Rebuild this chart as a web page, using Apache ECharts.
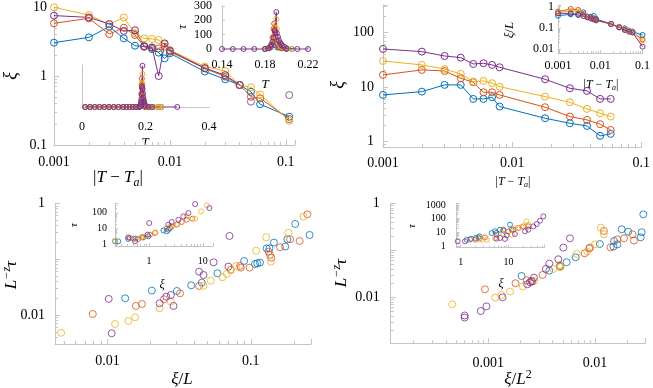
<!DOCTYPE html>
<html>
<head>
<meta charset="utf-8">
<script src="https://cdn.jsdelivr.net/npm/echarts@6/dist/echarts.min.js"></script>
<style>
html, body { margin: 0; padding: 0; background: #fff; }
#chart { width: 653px; height: 388px; }
</style>
</head>
<body>
<div id="chart"></div>
<script>
// ---- panel 1: xi vs |T - Ta| ----
const p1X = [0.001, 0.002, 0.003, 0.004, 0.005, 0.006, 0.007, 0.008, 0.009, 0.01, 0.02, 0.03, 0.04, 0.05, 0.06, 0.107]
const p1Blue = [3.04, 3.63, 5.2, 3.51, 2.75, 2.66, 2.46, 2.18, 1.8, 2.13, 1.16, 0.895, 0.74, 0.59, 0.39, 0.257]
const p1Orange = [5.8, 6.85, 4.06, 5.0, 3.93, 2.66, 2.55, 2.52, 2.66, 2.25, 1.29, 0.98, 0.74, 0.5, 0.475, 0.238]
const p1Yellow = [9.9, 7.66, 5.6, 7.07, 4.15, 3.51, 3.44, 3.33, 2.88, 2.38, 1.37, 1.18, 0.74, 0.685, 0.54, 0.225]
const p1PurpleX = [0.001, 0.002, 0.003, 0.004, 0.005, 0.006, 0.007, 0.008, 0.009, 0.01, 0.02, 0.03, 0.04]
const p1Purple = [7.5, 7.07, 5.67, 4.5, 4.6, 2.72, 2.6, 1.0, 2.97, 2.33, 1.3, 1.03, 0.74]
const p1PurpleLooseX = [0.05, 0.107]
const p1PurpleLoose = [0.425, 0.53]

// inset 1a: tau vs T (zoom on the peak)
const i1PurpleT = [0.14, 0.15, 0.16, 0.17, 0.18, 0.183, 0.185, 0.186, 0.187, 0.188, 0.189, 0.1895, 0.1905, 0.191, 0.192, 0.193, 0.194, 0.195, 0.196, 0.198, 0.2, 0.21, 0.22]
const i1Purple = [0, 0, 0, 0, 0, 5, 15, 30, 50, 80, 130, 119, 257, 110, 85, 60, 45, 35, 25, 15, 5, 0, 0]
const i1OrangeT = [0.18, 0.184, 0.186, 0.187, 0.188, 0.1885, 0.189, 0.19, 0.191, 0.192, 0.194, 0.196, 0.2]
const i1Orange = [0, 10, 30, 80, 140, 177, 120, 60, 40, 20, 10, 5, 0]
const i1YellowT = [0.18, 0.185, 0.187, 0.188, 0.189, 0.1905, 0.191, 0.192, 0.193, 0.195, 0.2, 0.205]
const i1Yellow = [0, 10, 40, 90, 150, 207, 140, 80, 40, 15, 5, 0]
const i1BlueT = [0.18, 0.184, 0.186, 0.188, 0.19, 0.192, 0.195, 0.2, 0.205]
const i1Blue = [0, 5, 20, 40, 25, 10, 5, 0, 0]

// inset 1b: tau vs T over the whole range
const i1bLowT = [0.01, 0.025, 0.04, 0.055, 0.07, 0.085, 0.1, 0.115, 0.13, 0.14, 0.15, 0.16, 0.17]
const i1bLow = [0, 0, 0, 0, 0, 0, 0, 0, 0, 0, 0, 0, 0]
const i1bTailT = [0.21, 0.225, 0.24, 0.25]
const i1bTail = [0, 0, 0, 0]
const i1bPurpleTailT = [0.3]
const i1bPurpleTail = [0]

// ---- panel 2: xi vs |T - Ta| ----
const p2X = [0.001, 0.002, 0.003, 0.004, 0.005, 0.006, 0.007, 0.008, 0.018, 0.028, 0.038, 0.048, 0.058]
const p2Purple = [49.5, 44.3, 36.9, 34.4, 26.3, 27.1, 25.3, 22.9, 13.8, 9.46, 8.45, 6.03, 6.03]
const p2Yellow = [29.9, 25.3, 21.3, 17.3, 12.5, 12.9, 11.7, 10.1, 6.65, 5.24, 3.96, 3.3, 2.87]
const p2Orange = [16.6, 20.5, 19.6, 14.4, 12.2, 7.98, 7.98, 7.14, 4.25, 2.87, 2.49, 2.08, 1.63]
const p2Blue = [7.14, 8.2, 10.9, 10.9, 6.03, 6.03, 6.47, 4.37, 2.67, 2.16, 1.93, 1.27, 1.38]

// inset 2: xi/L
const i2X = [0.001, 0.002, 0.003, 0.004, 0.005, 0.006, 0.007, 0.008, 0.018, 0.028, 0.038, 0.048, 0.058, 0.1]
const i2Blue = [0.376, 0.434, 0.45, 0.54, 0.337, 0.337, 0.362, 0.262, 0.152, 0.106, 0.095, 0.074, 0.066, 0.046]
const i2Orange = [0.58, 0.776, 0.696, 0.45, 0.337, 0.281, 0.281, 0.234, 0.152, 0.106, 0.085, 0.074, 0.061, 0.029]
const i2Yellow = [0.52, 0.624, 0.58, 0.362, 0.314, 0.281, 0.252, 0.218, 0.152, 0.114, 0.085, 0.071, 0.061, 0.025]
const i2Purple = [0.484, 0.484, 0.404, 0.362, 0.314, 0.281, 0.252, 0.234, 0.152, 0.106, 0.079, 0.066, 0.061, 0.013]

// ---- panel 3: L^-z tau vs xi/L ----
const p3BlueX = [0.0133, 0.0204, 0.0305, 0.0384, 0.0455, 0.0585, 0.0898, 0.107, 0.111, 0.116, 0.129, 0.135, 0.145, 0.174, 0.18, 0.204, 0.257]
const p3BlueY = [0.0199, 0.0273, 0.0269, 0.034, 0.0379, 0.0557, 0.0927, 0.0819, 0.0842, 0.0865, 0.156, 0.156, 0.198, 0.168, 0.227, 0.427, 0.271]
const p3OrangeX = [0.0079, 0.0158, 0.0174, 0.0248, 0.0321, 0.0436, 0.0725, 0.0843, 0.0851, 0.098, 0.133, 0.136, 0.139, 0.16, 0.188, 0.219, 0.248]
const p3OrangeY = [0.0104, 0.0145, 0.0157, 0.0191, 0.0244, 0.0331, 0.064, 0.0755, 0.0704, 0.0704, 0.136, 0.119, 0.106, 0.163, 0.227, 0.211, 0.635]
const p3YellowX = [0.00475, 0.0113, 0.014, 0.0156, 0.0231, 0.0277, 0.0468, 0.0526, 0.0634, 0.068, 0.0725, 0.079, 0.109, 0.128, 0.138, 0.183, 0.233]
const p3YellowY = [0.0048, 0.0069, 0.0078, 0.0091, 0.0132, 0.0173, 0.0331, 0.0412, 0.0473, 0.0542, 0.066, 0.0755, 0.142, 0.246, 0.0902, 0.298, 0.577]
const p3PurpleX = [0.0102, 0.0107, 0.0231, 0.0257, 0.0277, 0.0289, 0.0436, 0.0468, 0.055, 0.0698, 0.071]
const p3PurpleY = [0.0194, 0.0047, 0.0162, 0.0213, 0.0228, 0.0145, 0.0597, 0.052, 0.0877, 0.0734, 0.26]

// inset 3: tau vs xi
const i3BlueX = [0.233, 0.268, 0.41, 0.565, 0.75, 0.97, 1.85, 2.13, 2.29, 2.46]
const i3BlueY = [1.54, 1.54, 2.16, 2.27, 2.76, 3.2, 7.7, 6.6, 8.4, 10.8]
const i3OrangeX = [0.44, 0.51, 0.63, 0.78, 1.04, 1.29, 2.13, 2.64, 3.27, 4.06, 5.03, 6.42]
const i3OrangeY = [2.5, 2.27, 2.16, 2.76, 4.1, 5.2, 9.8, 13.7, 17.5, 26, 36, 42]
const i3YellowX = [0.233, 0.71, 0.84, 1.33, 2.46, 3.42, 5.03, 7.2, 9.3, 11.9]
const i3YellowY = [1.7, 2.76, 3.2, 5.7, 13.7, 19.3, 59, 42, 122, 293]
const i3PurpleX = [0.41, 0.55, 0.94, 1.01, 2.29, 2.64, 3.52, 4.36, 5.4, 7.2, 13.3]
const i3PurpleY = [2.76, 1.54, 4.1, 22.3, 17.5, 26, 36, 59, 96, 355, 198]

// ---- panel 4: L^-z tau vs xi/L^2 ----
const p4BlueX = [0.00205, 0.00373, 0.0047, 0.00542, 0.00659, 0.0111, 0.0149, 0.0151, 0.0162, 0.0178, 0.0205, 0.0268, 0.0274, 0.0284]
const p4BlueY = [0.0284, 0.0369, 0.0449, 0.0556, 0.071, 0.136, 0.12, 0.158, 0.134, 0.28, 0.249, 0.189, 0.242, 0.583]
const p4OrangeX = [0.00093, 0.0018, 0.00229, 0.00253, 0.00323, 0.0047, 0.008, 0.00885, 0.00897, 0.0121, 0.014, 0.0162, 0.0187, 0.0225, 0.0232]
const p4OrangeY = [0.0148, 0.0199, 0.023, 0.0223, 0.0299, 0.0464, 0.0863, 0.11, 0.114, 0.258, 0.116, 0.171, 0.18, 0.219, 0.161]
const p4YellowX = [0.00046, 0.00116, 0.00133, 0.0016, 0.0021, 0.00268, 0.00407, 0.0047, 0.00476, 0.00673, 0.00847, 0.01, 0.0113, 0.0121]
const p4YellowY = [0.0071, 0.0098, 0.0112, 0.0132, 0.0171, 0.0223, 0.0401, 0.0488, 0.0442, 0.0836, 0.0937, 0.134, 0.303, 0.219]
const p4PurpleX = [0.00012, 0.0006, 0.0006, 0.00085, 0.00096, 0.00136, 0.00232, 0.00246, 0.00257, 0.00268, 0.00347, 0.00373, 0.00453, 0.00505, 0.00583]
const p4PurpleY = [0.0027, 0.0041, 0.0037, 0.0051, 0.0064, 0.01, 0.0189, 0.0209, 0.0216, 0.0262, 0.0401, 0.052, 0.0644, 0.114, 0.18]

// inset 4: tau vs xi
const i4BlueX = [1.34, 1.64, 2.06, 2.34, 2.5, 4.46, 5.24, 5.6, 6.67, 7.83, 10.8, 11.7]
const i4BlueY = [2.9, 3.4, 3.84, 4.3, 5.1, 8.9, 11.8, 8.9, 15.6, 13.2, 36, 15.6]
const i4OrangeX = [1.57, 2.06, 2.5, 3.23, 5.6, 7.83, 9.96, 12.7, 16.1, 20.6, 26.2]
const i4OrangeY = [2.9, 2.9, 3.43, 4.3, 6.7, 15.6, 11.8, 15.6, 20.6, 27, 27]
const i4YellowX = [2.8, 3.5, 5.24, 7.83, 11.7, 13.7, 19, 24, 26.2]
const i4YellowY = [2.9, 2.9, 3.84, 7.5, 6.7, 19.5, 25, 63, 36]
const i4PurpleX = [0.865, 1.23, 5.6, 6.67, 8.49, 9.2, 13.7, 22.3, 26.2, 33.3, 39.2, 45.9, 54]
const i4PurpleY = [2.19, 2.19, 3.43, 3.84, 3.3, 6.0, 7.5, 11.8, 15.6, 27, 40, 71, 146]

const BLUE = '#0072BD', ORANGE = '#D95319', YELLOW = '#EDB120', PURPLE = '#7E2F8E'
const FONT = 'Liberation Serif'
const GRAY = '#c4c4c4'

const zip = (xs, ys) => xs.map((x, i) => [x, ys[i]])

// label only at powers of ten (every `step` decades)
const logLabel = (step) => (v) => {
  const l = Math.log10(v)
  const e = Math.round(l)
  if (Math.abs(l - e) > 1e-6 || e % step !== 0) return ''
  return e >= 0 ? String(Math.pow(10, e)) : Math.pow(10, e).toFixed(-e)
}

const grids = [
  { left: 54, top: 7, width: 241, height: 138 },      // 0 panel 1
  { left: 222, top: 5.5, width: 86, height: 43.5 },   // 1 inset 1a
  { left: 82, top: 65, width: 127, height: 42 },      // 2 inset 1b
  { left: 383, top: 5, width: 261, height: 142 },     // 3 panel 2
  { left: 558, top: 5.6, width: 86, height: 47.7 },   // 4 inset 2
  { left: 55, top: 203.3, width: 256, height: 140.7 },// 5 panel 3
  { left: 115, top: 203.3, width: 98, height: 42.7 }, // 6 inset 3
  { left: 390.7, top: 203.3, width: 254.3, height: 140 }, // 7 panel 4
  { left: 456.7, top: 203.3, width: 87.5, height: 44.4 }  // 8 inset 4
]

const axis = (gridIndex, type, min, max, size, margin, extra, step) => Object.assign({
  gridIndex, type, min, max,
  axisLine: { show: true, lineStyle: { color: GRAY, width: 1 } },
  axisTick: { show: true, inside: true, length: size > 12 ? 5 : 3, lineStyle: { color: GRAY } },
  minorTick: type === 'log' ? { show: true, splitNumber: 9, length: size > 12 ? 3 : 2, lineStyle: { color: GRAY } } : { show: false },
  splitLine: { show: false },
  axisLabel: { color: '#000', fontFamily: FONT, fontSize: size, margin, formatter: type === 'log' ? logLabel(step || 1) : null }
}, extra || {})

const xAxis = [
  axis(0, 'log', 0.001, 0.12, 14, 10),
  axis(1, 'value', 0.14, 0.22, 12, 10, { interval: 0.04 }),
  axis(2, 'value', 0, 0.4, 12, 14, { interval: 0.2, axisTick: { show: false } }),
  axis(3, 'log', 0.001, 0.1, 14, 9),
  axis(4, 'log', 0.001, 0.1, 12, 7),
  axis(5, 'log', Math.pow(10, -2.366), Math.pow(10, -0.58), 14, 10),
  axis(6, 'log', Math.pow(10, -0.633), Math.pow(10, 1.19), 10, 10),
  axis(7, 'log', Math.pow(10, -3.915), Math.pow(10, -1.531), 14, 13),
  axis(8, 'log', Math.pow(10, -0.084), Math.pow(10, 1.75), 10, 10)
]
const yAxis = [
  axis(0, 'log', 0.1, 10, 14, 7),
  axis(1, 'value', 0, 300, 12, 10, { interval: 100 }),
  axis(2, 'value', 0, 262, 12, 8, { axisLabel: { show: false }, axisTick: { show: false } }),
  axis(3, 'log', Math.pow(10, -0.1), Math.pow(10, 2.5), 14, 9),
  axis(4, 'log', Math.pow(10, -2.2), Math.pow(10, 0.05), 12, 4),
  axis(5, 'log', Math.pow(10, -2.52), 1, 14, 10, null, 2),
  axis(6, 'log', Math.pow(10, -0.108), Math.pow(10, 2.6), 10, 8),
  axis(7, 'log', Math.pow(10, -2.979), 1, 14, 11, null, 2),
  axis(8, 'log', Math.pow(10, -0.124), Math.pow(10, 3.12), 10, 11)
]

const line = (g, xs, ys, color, size) => ({
  type: 'line', xAxisIndex: g, yAxisIndex: g, data: zip(xs, ys),
  symbol: 'circle', symbolSize: size, showAllSymbol: true,
  lineStyle: { color, width: 1 },
  itemStyle: { color: 'rgba(255,255,255,0)', borderColor: color, borderWidth: 1 },
  emphasis: { disabled: true }, z: 3
})
const dots = (g, xs, ys, color, size) => ({
  type: 'scatter', xAxisIndex: g, yAxisIndex: g, data: zip(xs, ys),
  symbol: 'circle', symbolSize: size,
  itemStyle: { color: 'rgba(255,255,255,0)', borderColor: color, borderWidth: 1 },
  emphasis: { disabled: true }, z: 3
})

const cat = (...arrs) => [].concat(...arrs)

const series = [
  // panel 1
  line(0, p1X, p1Blue, BLUE, 7),
  line(0, p1X, p1Orange, ORANGE, 7),
  line(0, p1X, p1Yellow, YELLOW, 7),
  line(0, p1PurpleX, p1Purple, PURPLE, 7),
  dots(0, p1PurpleLooseX, p1PurpleLoose, PURPLE, 7),
  // inset 1a
  line(1, i1BlueT, i1Blue, BLUE, 5),
  line(1, i1OrangeT, i1Orange, ORANGE, 5),
  line(1, i1YellowT, i1Yellow, YELLOW, 5),
  line(1, i1PurpleT, i1Purple, PURPLE, 5),
  // inset 1b
  line(2, cat(i1bLowT, i1BlueT, i1bTailT), cat(i1bLow, i1Blue, i1bTail), BLUE, 5),
  line(2, cat(i1bLowT, i1OrangeT, i1bTailT), cat(i1bLow, i1Orange, i1bTail), ORANGE, 5),
  line(2, cat(i1bLowT, i1YellowT, i1bTailT), cat(i1bLow, i1Yellow, i1bTail), YELLOW, 5),
  line(2, cat(i1bLowT.slice(0, 9), i1PurpleT, i1bPurpleTailT), cat(i1bLow.slice(0, 9), i1Purple, i1bPurpleTail), PURPLE, 5),
  // panel 2
  line(3, p2X, p2Blue, BLUE, 7),
  line(3, p2X, p2Orange, ORANGE, 7),
  line(3, p2X, p2Yellow, YELLOW, 7),
  line(3, p2X, p2Purple, PURPLE, 7),
  // inset 2
  line(4, i2X, i2Blue, BLUE, 5),
  line(4, i2X, i2Orange, ORANGE, 5),
  line(4, i2X, i2Yellow, YELLOW, 5),
  line(4, i2X, i2Purple, PURPLE, 5),
  // panel 3
  dots(5, p3BlueX, p3BlueY, BLUE, 7),
  dots(5, p3OrangeX, p3OrangeY, ORANGE, 7),
  dots(5, p3YellowX, p3YellowY, YELLOW, 7),
  dots(5, p3PurpleX, p3PurpleY, PURPLE, 7),
  // inset 3
  dots(6, i3BlueX, i3BlueY, BLUE, 5),
  dots(6, i3OrangeX, i3OrangeY, ORANGE, 5),
  dots(6, i3YellowX, i3YellowY, YELLOW, 5),
  dots(6, i3PurpleX, i3PurpleY, PURPLE, 5),
  // panel 4
  dots(7, p4BlueX, p4BlueY, BLUE, 7),
  dots(7, p4OrangeX, p4OrangeY, ORANGE, 7),
  dots(7, p4YellowX, p4YellowY, YELLOW, 7),
  dots(7, p4PurpleX, p4PurpleY, PURPLE, 7),
  // inset 4
  dots(8, i4BlueX, i4BlueY, BLUE, 5),
  dots(8, i4OrangeX, i4OrangeY, ORANGE, 5),
  dots(8, i4YellowX, i4YellowY, YELLOW, 5),
  dots(8, i4PurpleX, i4PurpleY, PURPLE, 5)
]

// axis titles
const rich = (s) => ({
  i: { fontStyle: 'italic', fontFamily: FONT, fontSize: s, fill: '#000', color: '#000' },
  sub: { fontStyle: 'italic', fontFamily: FONT, fontSize: Math.round(s * 0.7), padding: [Math.round(s * 0.5), 0, 0, 0], fill: '#000', color: '#000' },
  sup: { fontStyle: 'italic', fontFamily: FONT, fontSize: Math.round(s * 0.7), padding: [0, 0, Math.round(s * 0.6), 0], fill: '#000', color: '#000' },
  supr: { fontFamily: FONT, fontSize: Math.round(s * 0.7), padding: [0, 0, Math.round(s * 0.6), 0], fill: '#000', color: '#000' }
})
const title = (x, y, text, size, rot) => ({
  type: 'text', x, y, rotation: rot ? Math.PI / 2 : 0, silent: true,
  style: { text, fontFamily: FONT, fontSize: size, fill: '#000', align: 'center', verticalAlign: 'middle', rich: rich(size) }
})
const TTa = '|{i|T} − {i|T}{sub|a}|'
const LzTau = '{i|L}{sup|−z}{i|τ}'

const graphic = [
  title(118, 178, TTa, 17), title(11, 76, '{i|ξ}', 18, true),
  title(183, 27, '{i|τ}', 13, true), title(265, 85, '{i|T}', 13),
  title(145, 143, '{i|T}', 13),
  title(513, 182, TTa, 12), title(338, 85, '{i|ξ}', 18, true),
  title(601, 85, TTa, 12), title(510, 30, '{i|ξ}/{i|L}', 13, true),
  title(182, 380, '{i|ξ}/{i|L}', 17), title(12, 275, LzTau, 17, true),
  title(74, 225, '{i|τ}', 11, true), title(162, 285, '{i|ξ}', 12),
  title(518, 380, '{i|ξ}/{i|L}{supr|2}', 17), title(342, 273, LzTau, 17, true),
  title(412, 226, '{i|τ}', 11, true), title(501, 284, '{i|ξ}', 12)
]

const chart = echarts.init(document.getElementById('chart'), null, { renderer: 'canvas' })
chart.setOption({
  animation: false,
  backgroundColor: '#fff',
  grid: grids,
  xAxis,
  yAxis,
  series,
  graphic
})
</script>
</body>
</html>
